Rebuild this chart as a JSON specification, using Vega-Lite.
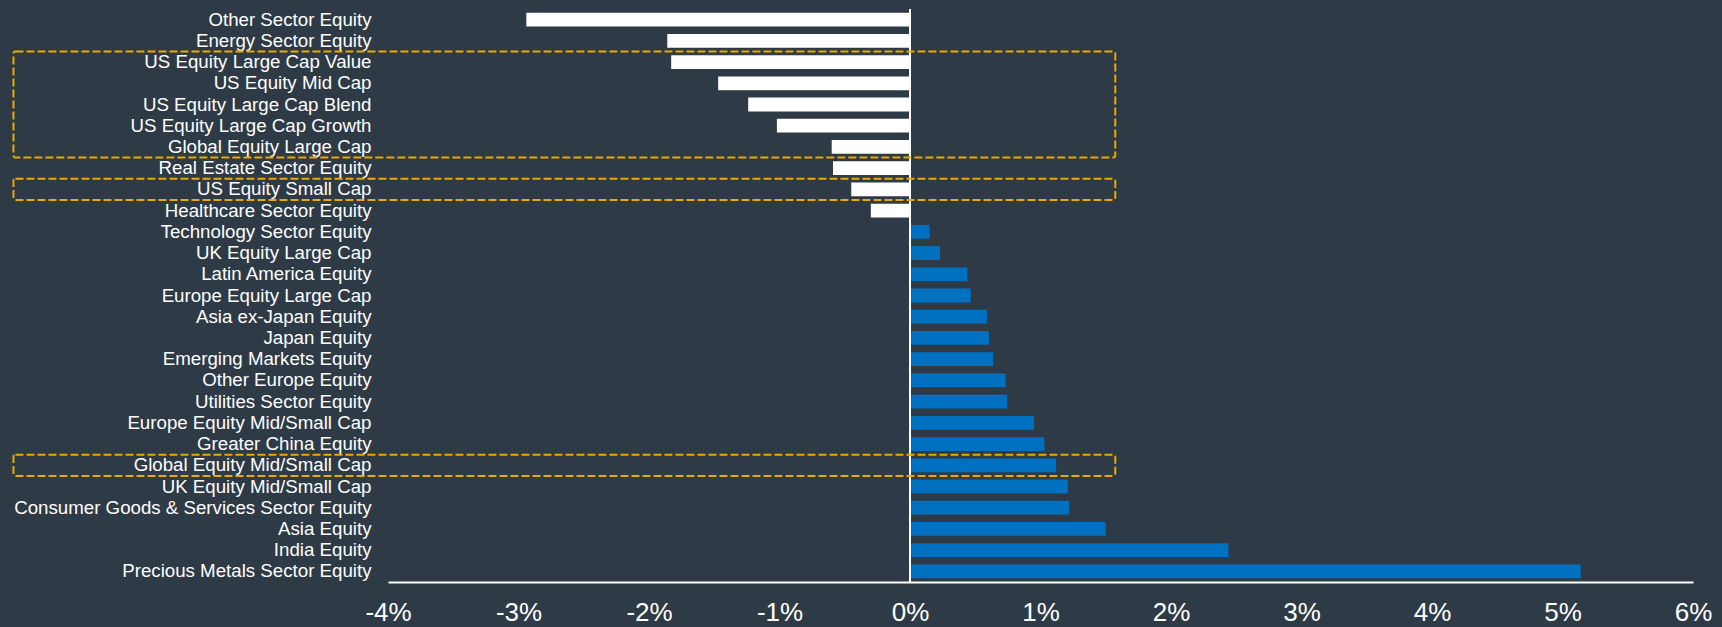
{
  "$schema": "https://vega.github.io/schema/vega-lite/v6.json",
  "width": 1305,
  "height": 573,
  "autosize": "none",
  "padding": {"left": 388, "top": 9, "right": 29, "bottom": 45},
  "background": "#2E3A46",
  "config": {"view": {"stroke": null}, "font": "Liberation Sans"},
  "datasets": {
    "returns": [
      {"category": "Other Sector Equity", "value": -2.94},
      {"category": "Energy Sector Equity", "value": -1.86},
      {"category": "US Equity Large Cap Value", "value": -1.83},
      {"category": "US Equity Mid Cap", "value": -1.47},
      {"category": "US Equity Large Cap Blend", "value": -1.24},
      {"category": "US Equity Large Cap Growth", "value": -1.02},
      {"category": "Global Equity Large Cap", "value": -0.60},
      {"category": "Real Estate Sector Equity", "value": -0.59},
      {"category": "US Equity Small Cap", "value": -0.45},
      {"category": "Healthcare Sector Equity", "value": -0.30},
      {"category": "Technology Sector Equity", "value": 0.15},
      {"category": "UK Equity Large Cap", "value": 0.23},
      {"category": "Latin America Equity", "value": 0.44},
      {"category": "Europe Equity Large Cap", "value": 0.465},
      {"category": "Asia ex-Japan Equity", "value": 0.59},
      {"category": "Japan Equity", "value": 0.605},
      {"category": "Emerging Markets Equity", "value": 0.636},
      {"category": "Other Europe Equity", "value": 0.733},
      {"category": "Utilities Sector Equity", "value": 0.743},
      {"category": "Europe Equity Mid/Small Cap", "value": 0.95},
      {"category": "Greater China Equity", "value": 1.03},
      {"category": "Global Equity Mid/Small Cap", "value": 1.12},
      {"category": "UK Equity Mid/Small Cap", "value": 1.21},
      {"category": "Consumer Goods & Services Sector Equity", "value": 1.22},
      {"category": "Asia Equity", "value": 1.50},
      {"category": "India Equity", "value": 2.44},
      {"category": "Precious Metals Sector Equity", "value": 5.14}
    ],
    "boxes": [
      {"from": "US Equity Large Cap Value", "to": "Global Equity Large Cap"},
      {"from": "US Equity Small Cap", "to": "US Equity Small Cap"},
      {"from": "Global Equity Mid/Small Cap", "to": "Global Equity Mid/Small Cap"}
    ]
  },
  "layer": [
    {
      "data": {"name": "returns"},
      "mark": {"type": "bar"},
      "encoding": {
        "y": {
          "field": "category",
          "type": "nominal",
          "sort": null,
          "scale": {
            "domain": ["Other Sector Equity", "Energy Sector Equity", "US Equity Large Cap Value", "US Equity Mid Cap", "US Equity Large Cap Blend", "US Equity Large Cap Growth", "Global Equity Large Cap", "Real Estate Sector Equity", "US Equity Small Cap", "Healthcare Sector Equity", "Technology Sector Equity", "UK Equity Large Cap", "Latin America Equity", "Europe Equity Large Cap", "Asia ex-Japan Equity", "Japan Equity", "Emerging Markets Equity", "Other Europe Equity", "Utilities Sector Equity", "Europe Equity Mid/Small Cap", "Greater China Equity", "Global Equity Mid/Small Cap", "UK Equity Mid/Small Cap", "Consumer Goods & Services Sector Equity", "Asia Equity", "India Equity", "Precious Metals Sector Equity"],
            "paddingInner": 0.35,
            "paddingOuter": 0.175
          },
          "axis": {
            "title": null,
            "ticks": false,
            "domain": false,
            "grid": false,
            "labelColor": "#FFFFFF",
            "labelFontSize": 18.7,
            "labelPadding": 17,
            "labelLimit": 0
          }
        },
        "x": {
          "field": "value",
          "type": "quantitative",
          "scale": {"domain": [-4, 6], "nice": false},
          "axis": {
            "title": null,
            "values": [-4, -3, -2, -1, 0, 1, 2, 3, 4, 5, 6],
            "labelExpr": "datum.value + '%'",
            "labelColor": "#FFFFFF",
            "labelFontSize": 26,
            "labelPadding": 17,
            "labelFlush": false,
            "labelOverlap": false,
            "ticks": false,
            "tickSize": 0,
            "grid": false,
            "domainColor": "#FFFFFF",
            "domainWidth": 2
          }
        },
        "color": {
          "condition": {"test": "datum.value < 0", "value": "#FFFFFF"},
          "value": "#0070C0"
        }
      }
    },
    {
      "data": {"values": [{}]},
      "mark": {"type": "rule", "color": "#FFFFFF", "strokeWidth": 2},
      "encoding": {"x": {"datum": 0}}
    },
    {
      "data": {"name": "boxes"},
      "mark": {"type": "rect", "fill": null, "stroke": "#E8A900", "strokeWidth": 2, "strokeDash": [8, 3], "cornerRadius": 2, "clip": false},
      "encoding": {
        "y": {"field": "from", "type": "nominal", "bandPosition": -0.27},
        "y2": {"field": "to", "bandPosition": 1.27},
        "x": {"datum": -6.87},
        "x2": {"datum": 1.573}
      }
    }
  ]
}
